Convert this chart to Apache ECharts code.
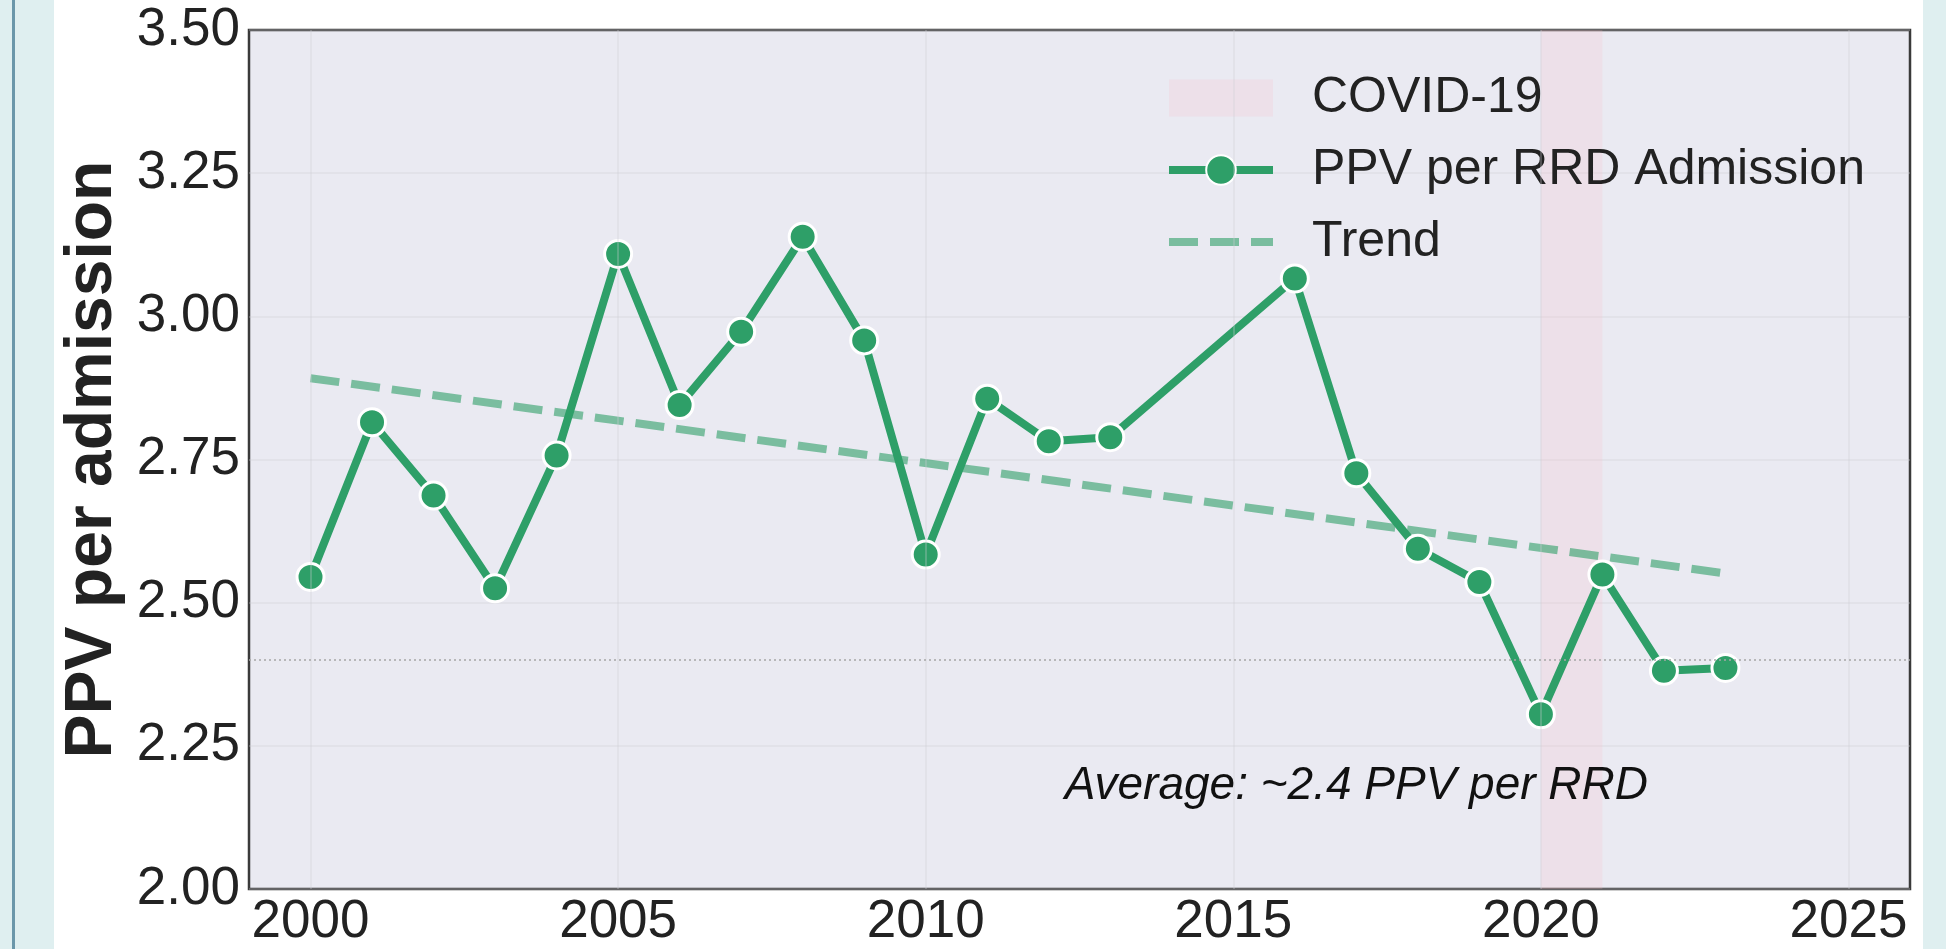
<!DOCTYPE html>
<html>
<head>
<meta charset="utf-8">
<script src="https://cdn.jsdelivr.net/npm/echarts@6/dist/echarts.min.js"></script>
<style>
html,body{margin:0;padding:0;background:#ffffff;}
#c{width:1946px;height:949px;}
</style>
</head>
<body>
<div id="c"></div>
<script>
// ---- data ----
const years = [2000, 2001, 2002, 2003, 2004, 2005, 2006, 2007, 2008, 2009, 2010, 2011, 2012, 2013, 2016, 2017, 2018, 2019, 2020, 2021, 2022, 2023];
const ppvPerAdmission = [2.545, 2.815, 2.687, 2.525, 2.757, 3.109, 2.845, 2.973, 3.139, 2.958, 2.584, 2.856, 2.782, 2.789, 3.066, 2.726, 2.594, 2.536, 2.305, 2.549, 2.381, 2.386];
const trendYears = [2000, 2023];
const trendValues = [2.892, 2.551];
const averageValue = 2.4;
const covidSpan = [2020, 2021];
const xTickValues = [2000, 2005, 2010, 2015, 2020, 2025];
const yTickValues = [2.00, 2.25, 2.50, 2.75, 3.00, 3.25, 3.50];
const legendNames = ['COVID-19', 'PPV per RRD Admission', 'Trend'];
const yAxisTitle = 'PPV per admission';
const annotationText = 'Average: ~2.4 PPV per RRD';
const annotationAt = [2017, 2.18];

// ---- styles ----
const FONT = '"Liberation Sans", Arial, Helvetica, sans-serif';
const GREEN = '#2e9f68';
const TREND = 'rgba(46,159,104,0.6)';
const COVID = 'rgba(255,182,193,0.18)';
const GRIDC = 'rgba(205,205,212,0.38)';
const LW = 8;

const chart = echarts.init(document.getElementById('c'), null, {renderer: 'canvas'});

const mainData = years.map((y, i) => [y, ppvPerAdmission[i]]);
const trendData = trendYears.map((y, i) => [y, trendValues[i]]);

chart.setOption({
  animation: false,
  backgroundColor: '#ffffff',
  graphic: [
    {type: 'rect', z: -100, shape: {x: 0, y: 0, width: 54, height: 949}, style: {fill: '#dfeff0'}},
    {type: 'rect', z: -99, shape: {x: 12, y: 0, width: 3, height: 949}, style: {fill: '#6b97aa'}},
    {type: 'rect', z: -100, shape: {x: 1923, y: 0, width: 23, height: 949}, style: {fill: '#dfeff0'}}
  ],
  grid: {
    left: 249, right: 36, top: 30, bottom: 59,
    show: true, backgroundColor: '#eaeaf2', borderColor: '#3a3a3a', borderWidth: 2.5,
    containLabel: false
  },
  legend: {
    orient: 'vertical', left: 1160, top: 68,
    itemWidth: 104, itemHeight: 37, itemGap: 22,
    textStyle: {fontFamily: FONT, fontSize: 50, color: '#222', padding: [0, 0, 0, 34]},
    data: [
      {name: legendNames[0], icon: 'rect', itemStyle: {color: COVID}},
      {name: legendNames[1], lineStyle: {width: LW}},
      {name: legendNames[2], lineStyle: {width: LW}, itemStyle: {opacity: 0}}
    ],
    selectedMode: false
  },
  xAxis: {
    type: 'value', min: 1999, max: 2026,
    axisLine: {show: false}, axisTick: {show: false},
    splitLine: {show: false},
    axisLabel: {
      customValues: xTickValues, margin: 7,
      fontFamily: FONT, fontSize: 53, color: '#222',
      formatter: v => String(v)
    }
  },
  yAxis: {
    type: 'value', min: 2, max: 3.5, interval: 0.25,
    name: yAxisTitle, nameLocation: 'middle', nameRotate: 90, nameGap: 120,
    nameTextStyle: {fontFamily: FONT, fontSize: 66, fontWeight: 'bold', color: '#222'},
    axisLine: {show: false}, axisTick: {show: false},
    splitLine: {show: true, lineStyle: {color: GRIDC, width: 1.5}},
    axisLabel: {
      margin: 9, fontFamily: FONT, fontSize: 53, color: '#222',
      formatter: v => v.toFixed(2)
    }
  },
  series: [
    {
      name: legendNames[0], type: 'line', data: [], z: 1, silent: true,
      itemStyle: {color: COVID},
      markArea: {silent: true, itemStyle: {color: COVID}, data: [[{xAxis: covidSpan[0]}, {xAxis: covidSpan[1]}]]}
    },
    {
      name: 'gridHelper', type: 'line', data: [], z: 1, silent: true,
      markLine: {
        silent: true, symbol: ['none', 'none'], label: {show: false},
        data: xTickValues.map(v => ({xAxis: v, lineStyle: {color: GRIDC, width: 1.5, type: 'solid'}}))
          .concat([{yAxis: averageValue, lineStyle: {color: '#a6a6a6', width: 1.5, type: [2, 3]}}])
      }
    },
    {
      name: legendNames[2], type: 'line', data: trendData, z: 2, symbol: 'none',
      itemStyle: {color: TREND},
      lineStyle: {color: TREND, width: LW, type: [29, 12]}
    },
    {
      name: legendNames[1], type: 'line', data: mainData, z: 3,
      symbol: 'circle', symbolSize: 27, showSymbol: true,
      itemStyle: {color: GREEN, borderColor: '#ffffff', borderWidth: 3},
      lineStyle: {color: GREEN, width: LW},
      markPoint: {
        silent: true, symbol: 'circle', symbolSize: 0,
        label: {show: true, position: 'inside', formatter: annotationText,
          fontFamily: FONT, fontSize: 46, fontStyle: 'italic', color: '#111'},
        data: [{coord: annotationAt}]
      }
    }
  ]
});
</script>
</body>
</html>
